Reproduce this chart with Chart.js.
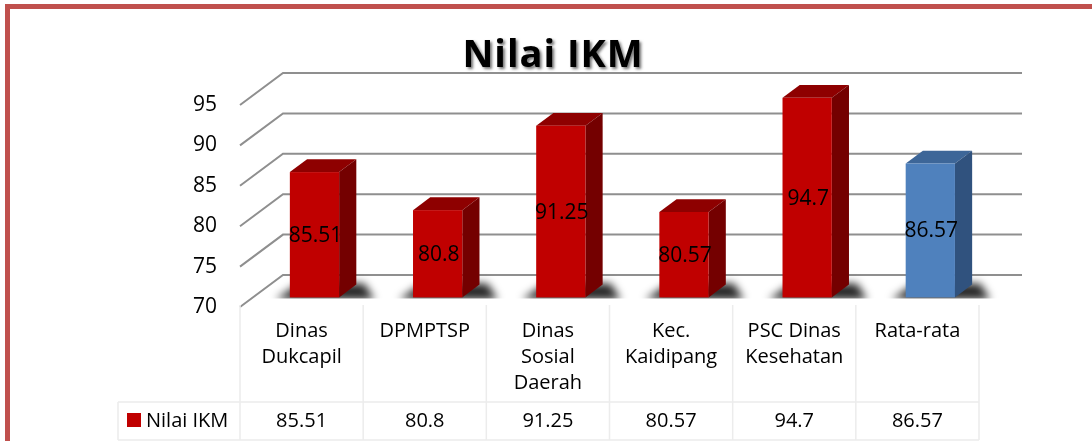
<!DOCTYPE html>
<html>
<head>
<meta charset="utf-8">
<script src="https://cdn.jsdelivr.net/npm/chart.js@4.4.1/dist/chart.umd.min.js"></script>
<style>
  html, body { margin: 0; padding: 0; background: #fff; overflow: hidden; }
  #wrap { width: 1092px; height: 441px; }
</style>
</head>
<body>
<div id="wrap"><canvas id="ikmChart" width="1092" height="441"></canvas></div>
<script>
// data
const categories = [['Dinas', 'Dukcapil'], ['DPMPTSP'], ['Dinas', 'Sosial', 'Daerah'], ['Kec.', 'Kaidipang'], ['PSC Dinas', 'Kesehatan'], ['Rata-rata']];
const nilaiIKM = [85.51, 80.8, 91.25, 80.57, 94.7, 86.57];
const seriesName = 'Nilai IKM';
const chartTitle = 'Nilai IKM';

// look
const FONT = "'Open Sans', sans-serif";
const WALL_DX = 43, WALL_DY = -32;      // depth of the 3d box
const BAR_FRONT = 0.3, BAR_BACK = 0.7;  // bar position inside the depth
const red = { front: '#c00000', top: '#8e0000', side: '#740000' };
const blue = { front: '#4f81bd', top: '#3d6698', side: '#30527e' };
const barLook = nilaiIKM.map((v, i) => i === nilaiIKM.length - 1 ? blue : red);

const frame = {
  id: 'frame',
  beforeDraw(chart) {
    const ctx = chart.ctx;
    ctx.save();
    ctx.fillStyle = '#c0504d';
    ctx.fillRect(5, 4, 1092, 5);
    ctx.fillRect(5, 4, 5, 441);
    ctx.restore();
  }
};

const walls = {
  id: 'walls',
  beforeDatasetsDraw(chart) {
    const { ctx, chartArea: a, scales: { y } } = chart;
    ctx.save();
    ctx.strokeStyle = '#8f8f8f';
    ctx.lineWidth = 2;
    y.ticks.forEach(t => {
      const py = y.getPixelForValue(t.value);
      ctx.beginPath();
      ctx.moveTo(a.left, py);
      ctx.lineTo(a.left + WALL_DX, py + WALL_DY);
      ctx.lineTo(a.right + WALL_DX, py + WALL_DY);
      ctx.stroke();
    });
    ctx.restore();
  }
};

function barBox(bar, yScale) {
  const p = bar.getProps(['x', 'y', 'width'], true);
  const base = yScale.getPixelForValue(yScale.min);
  const fx = BAR_FRONT * WALL_DX, fy = BAR_FRONT * WALL_DY;
  return {
    l: p.x - p.width / 2 + fx, r: p.x + p.width / 2 + fx,
    t: p.y + fy, b: base + fy,
    dx: (BAR_BACK - BAR_FRONT) * WALL_DX, dy: (BAR_BACK - BAR_FRONT) * WALL_DY
  };
}

function poly(ctx, pts, color) {
  ctx.beginPath();
  ctx.moveTo(pts[0][0], pts[0][1]);
  pts.slice(1).forEach(p => ctx.lineTo(p[0], p[1]));
  ctx.closePath();
  ctx.fillStyle = color;
  ctx.fill();
}

const bars3d = {
  id: 'bars3d',
  afterDatasetsDraw(chart) {
    const ctx = chart.ctx;
    const boxes = chart.getDatasetMeta(0).data.map(b => barBox(b, chart.scales.y));
    // floor shadows
    boxes.forEach(k => {
      ctx.save();
      ctx.beginPath();
      ctx.rect(0, 0, 1092, k.b + 1);
      ctx.clip();
      ctx.filter = 'blur(4px)';
      poly(ctx, [[k.l - 14, k.b + 2], [k.r + k.dx + 18, k.b + 2], [k.r + k.dx + 8, k.b + k.dy - 1], [k.l + k.dx - 8, k.b + k.dy - 1]], 'rgba(0,0,0,0.85)');
      ctx.restore();
    });
    boxes.forEach((k, i) => {
      const c = barLook[i];
      ctx.save();
      poly(ctx, [[k.l, k.t], [k.r, k.t], [k.r + k.dx, k.t + k.dy], [k.l + k.dx, k.t + k.dy]], c.top);
      poly(ctx, [[k.r, k.t], [k.r + k.dx, k.t + k.dy], [k.r + k.dx, k.b + k.dy], [k.r, k.b]], c.side);
      ctx.fillStyle = c.front;
      ctx.fillRect(k.l, k.t, k.r - k.l, k.b - k.t);
      ctx.fillStyle = '#000';
      ctx.font = '21px ' + FONT;
      ctx.textAlign = 'center';
      ctx.textBaseline = 'middle';
      ctx.fillText(String(nilaiIKM[i]), (k.l + k.r) / 2 + 1, (k.t + k.b) / 2 + 1);
      ctx.restore();
    });
  }
};

const tableAndTitle = {
  id: 'tableAndTitle',
  afterDraw(chart) {
    const { ctx, chartArea: a } = chart;
    const n = categories.length;
    const cw = (a.right - a.left) / n;
    const top = a.bottom - 2, mid = 402, bottom = 440, rowLeft = 118;
    ctx.save();
    ctx.strokeStyle = '#ececec';
    ctx.lineWidth = 1.5;
    ctx.beginPath();
    for (let i = 0; i <= n; i++) {
      const px = a.left + i * cw;
      ctx.moveTo(px, top);
      ctx.lineTo(px, bottom);
    }
    ctx.moveTo(rowLeft, mid); ctx.lineTo(a.right, mid);
    ctx.moveTo(rowLeft, bottom); ctx.lineTo(a.right, bottom);
    ctx.moveTo(rowLeft, mid); ctx.lineTo(rowLeft, bottom);
    ctx.stroke();

    ctx.fillStyle = '#000';
    ctx.font = '20px ' + FONT;
    ctx.textAlign = 'center';
    ctx.textBaseline = 'middle';
    categories.forEach((lines, i) => {
      const cx = a.left + (i + 0.5) * cw;
      lines.forEach((s, j) => ctx.fillText(s, cx, 331 + j * 26));
      ctx.fillText(String(nilaiIKM[i]), cx, 421);
    });
    ctx.fillStyle = red.front;
    ctx.fillRect(127, 413, 14, 14);
    ctx.fillStyle = '#000';
    ctx.textAlign = 'left';
    ctx.fillText(seriesName, 146, 421);

    // title
    ctx.font = 'bold 38px ' + FONT;
    ctx.letterSpacing = '1px';
    ctx.textAlign = 'center';
    ctx.textBaseline = 'alphabetic';
    ctx.shadowColor = 'rgba(0,0,0,0.55)';
    ctx.shadowBlur = 3;
    ctx.shadowOffsetX = 2;
    ctx.shadowOffsetY = 2;
    ctx.fillText(chartTitle, 553, 67);
    ctx.restore();
  }
};

new Chart(document.getElementById('ikmChart'), {
  type: 'bar',
  data: {
    labels: categories,
    datasets: [{
      label: seriesName,
      data: nilaiIKM,
      backgroundColor: 'rgba(0,0,0,0)',
      borderWidth: 0,
      barPercentage: 0.4,
      categoryPercentage: 1
    }]
  },
  options: {
    responsive: false,
    animation: false,
    layout: { padding: { left: 0, right: 113, top: 105, bottom: 134 } },
    scales: {
      x: { display: false },
      y: {
        min: 70,
        max: 95,
        ticks: { stepSize: 5, color: '#000', padding: 23, font: { family: FONT, size: 21 } },
        grid: { display: false, drawTicks: false },
        border: { display: false },
        afterFit(scale) { scale.width = 240; }
      }
    },
    plugins: {
      legend: { display: false },
      tooltip: { enabled: false }
    }
  },
  plugins: [frame, walls, bars3d, tableAndTitle]
});
</script>
</body>
</html>
